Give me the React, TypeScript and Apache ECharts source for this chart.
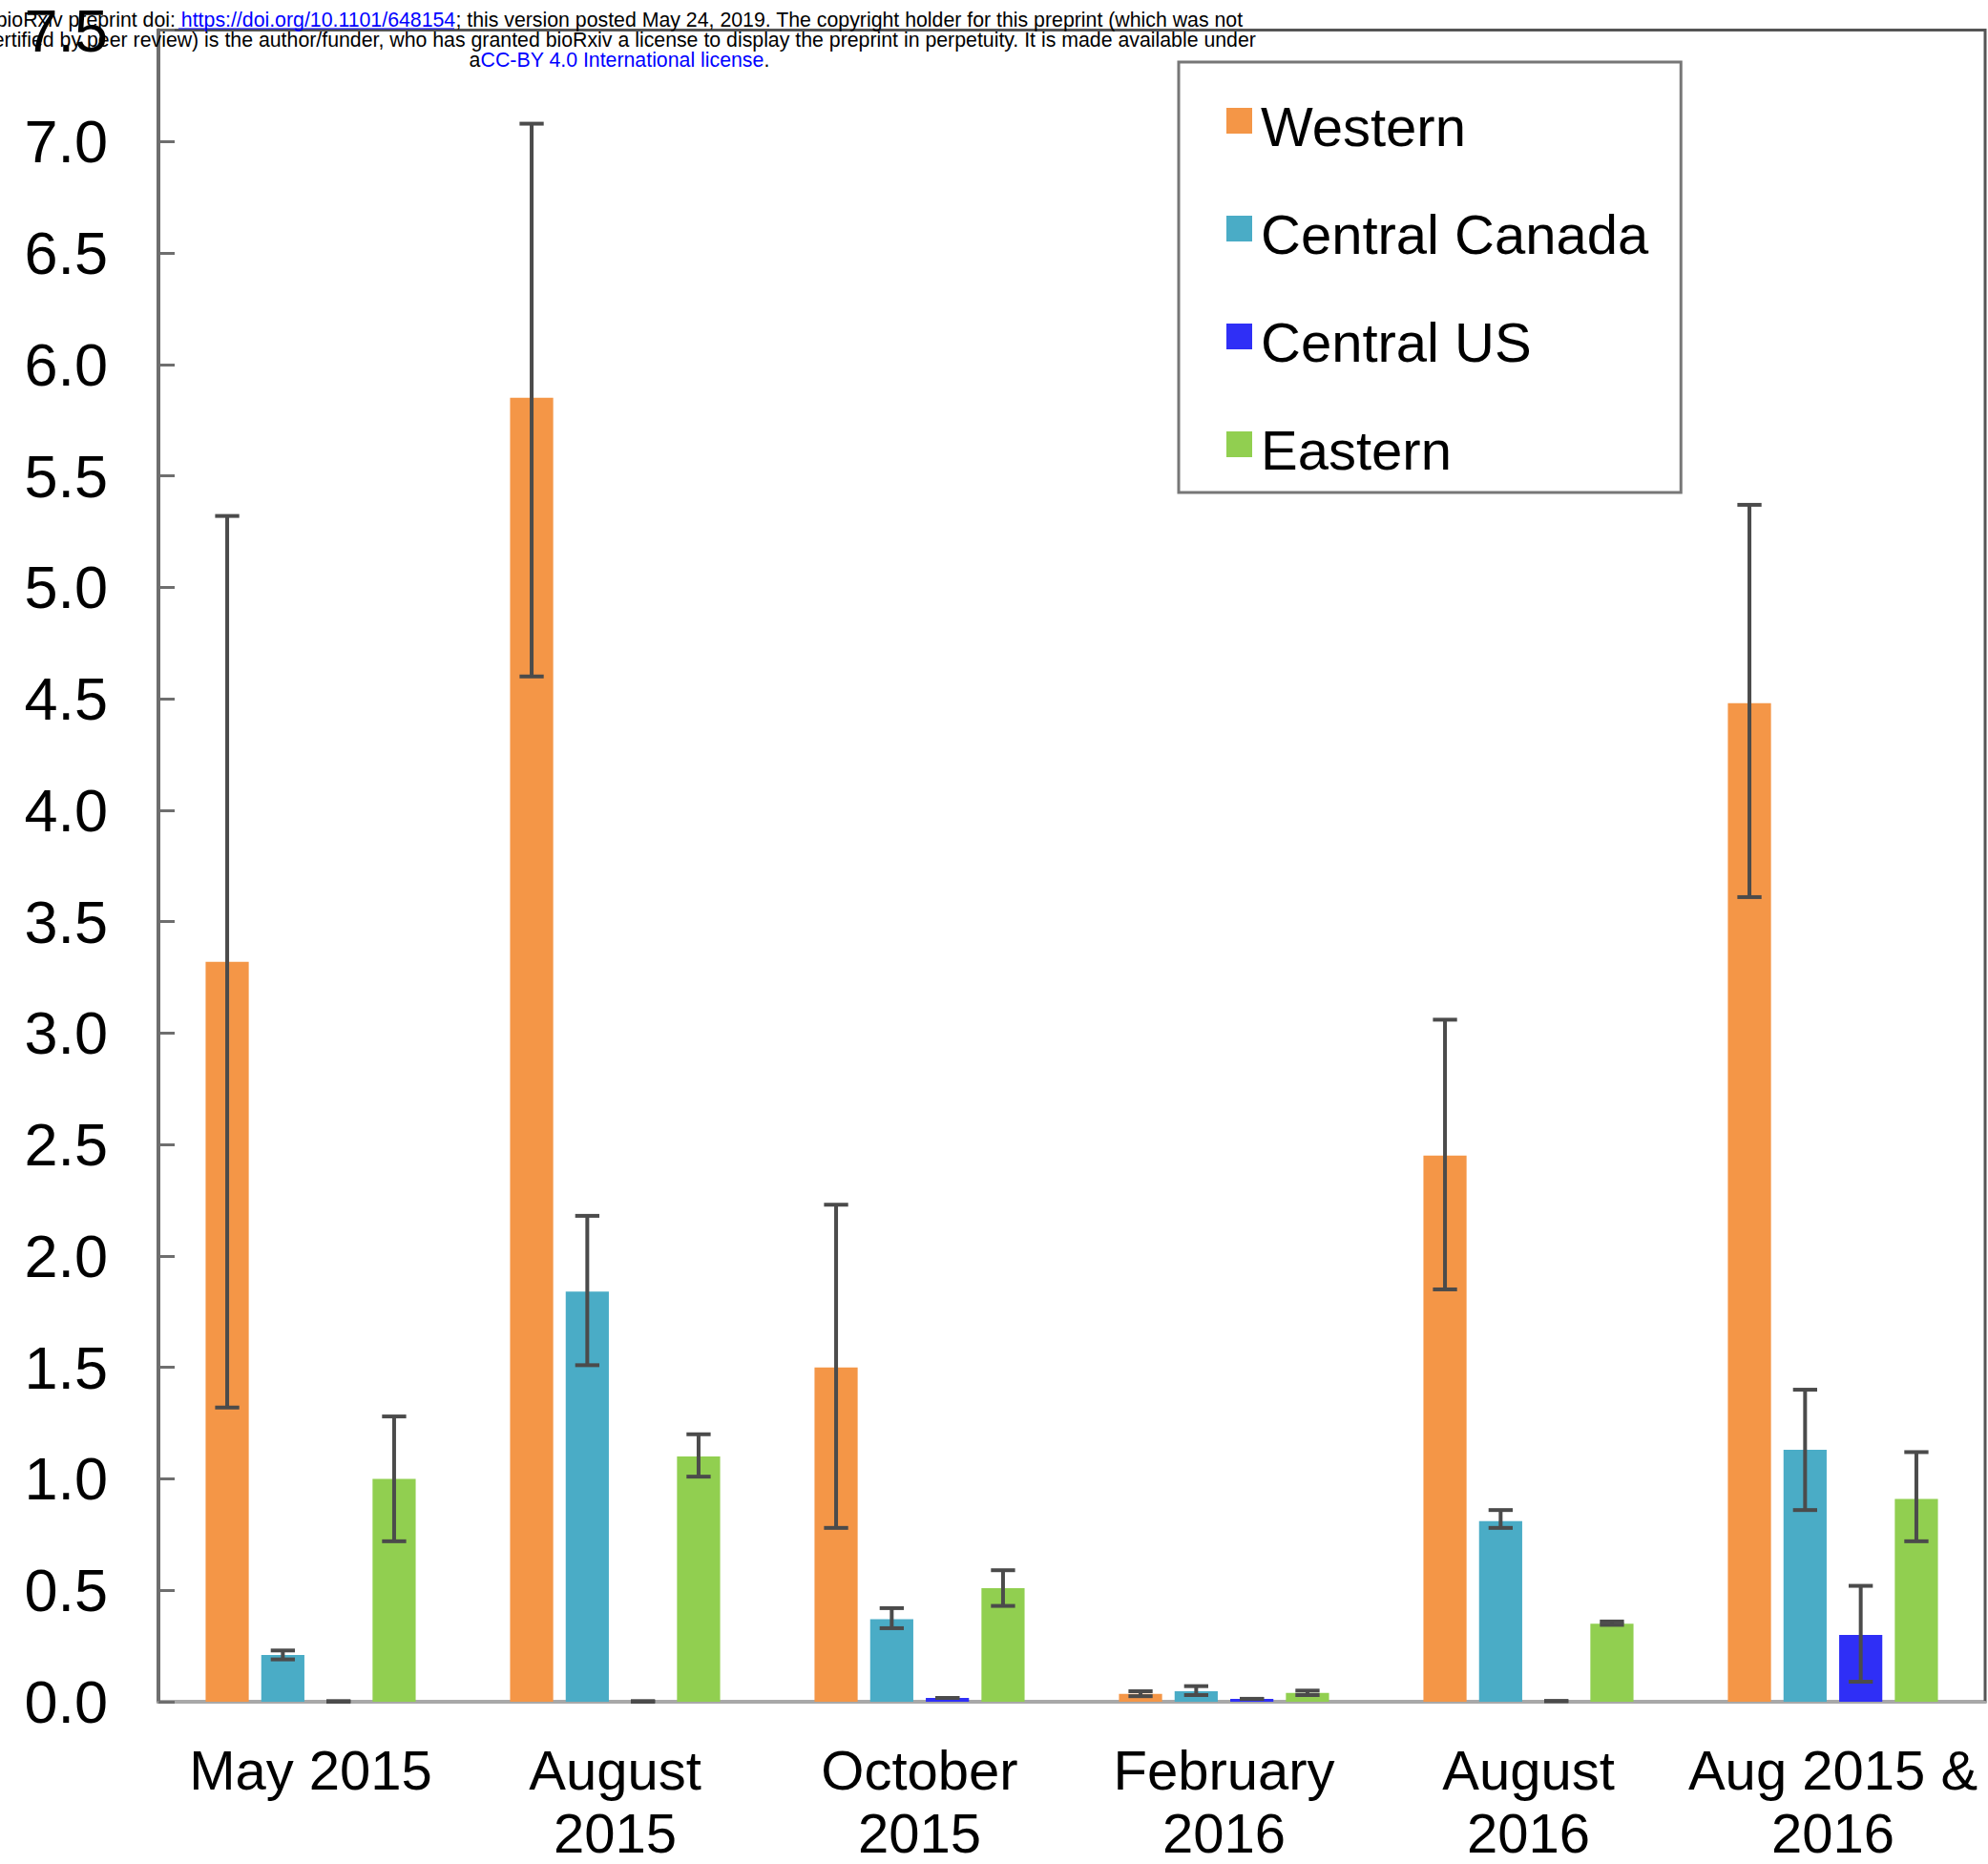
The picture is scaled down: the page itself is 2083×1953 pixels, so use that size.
import React, { useEffect, useRef } from "react";
import * as echarts from "echarts";

const categories = ["May 2015", "August\n2015", "October\n2015", "February\n2016", "August\n2016", "Aug 2015 &\n2016"];
const seriesNames = ["Western", "Central Canada", "Central US", "Eastern"];
const seriesColors = ["#F49647", "#4AACC6", "#2F2FF6", "#91CF50"];

const western = [3.32, 5.85, 1.5, 0.035, 2.45, 4.48];
const westernLow = [1.32, 4.6, 0.78, 0.025, 1.85, 3.61];
const westernHigh = [5.32, 7.08, 2.23, 0.047, 3.06, 5.37];

const centralCanada = [0.21, 1.84, 0.37, 0.047, 0.81, 1.13];
const centralCanadaLow = [0.19, 1.51, 0.33, 0.03, 0.78, 0.86];
const centralCanadaHigh = [0.23, 2.18, 0.42, 0.07, 0.86, 1.4];

const centralUS = [0, 0, 0.017, 0.013, 0, 0.3];
const centralUSLow = [0, 0, 0.017, 0.013, 0.003, 0.09];
const centralUSHigh = [0.003, 0.003, 0.017, 0.013, 0.003, 0.52];

const eastern = [1.0, 1.1, 0.51, 0.04, 0.35, 0.91];
const easternLow = [0.72, 1.01, 0.43, 0.03, 0.345, 0.72];
const easternHigh = [1.28, 1.2, 0.59, 0.05, 0.36, 1.12];

const yTicks = { min: 0, max: 7.5, interval: 0.5 };

const FONT = '"Liberation Sans", Arial, Helvetica, sans-serif';
const CAT_GAP = 0.31;
const BAR_GAP = 0.29;
const N_BARS = 4;

const values = [western, centralCanada, centralUS, eastern];
const lows = [westernLow, centralCanadaLow, centralUSLow, easternLow];
const highs = [westernHigh, centralCanadaHigh, centralUSHigh, easternHigh];

function makeErrorRenderer(si: number) {
  return (params: any, api: any) => {
    const ci = api.value(0);
    const lo = api.value(1);
    const hi = api.value(2);
    const band = api.size([1, 0])[0];
    const w = (band * (1 - CAT_GAP)) / (N_BARS + (N_BARS - 1) * BAR_GAP);
    const total = N_BARS * w + (N_BARS - 1) * w * BAR_GAP;
    const center = api.coord([ci, 0])[0];
    const cx = center - total / 2 + si * w * (1 + BAR_GAP) + w / 2;
    const yLo = api.coord([ci, lo])[1];
    const yHi = api.coord([ci, hi])[1];
    const cap = w * 0.28;
    const style = { stroke: "#4b4b4b", lineWidth: 4 };
    return {
      type: "group",
      children: [
        { type: "line", shape: { x1: cx, y1: yLo, x2: cx, y2: yHi }, style },
        { type: "line", shape: { x1: cx - cap, y1: yHi, x2: cx + cap, y2: yHi }, style },
        { type: "line", shape: { x1: cx - cap, y1: yLo, x2: cx + cap, y2: yLo }, style },
      ],
    };
  };
}

const HEADER_FS = 21.3;

export default function App() {
  const ref = useRef<HTMLDivElement>(null);
  useEffect(() => {
    if (!ref.current) return;
    const chart = echarts.init(ref.current, undefined, { renderer: "svg" });
    const barSeries = seriesNames.map((name, i) => ({
      type: "bar",
      name,
      data: values[i],
      itemStyle: { color: seriesColors[i] },
      barCategoryGap: "31%",
      barGap: "29%",
      z: 2,
    }));
    const errSeries = seriesNames.map((name, i) => ({
      type: "custom",
      name: name + " error",
      data: categories.map((_, k) => [k, lows[i][k], highs[i][k]]),
      encode: { x: 0, y: [1, 2] },
      renderItem: makeErrorRenderer(i),
      z: 5,
      silent: true,
    }));
    chart.setOption({
      animation: false,
      backgroundColor: "#ffffff",
      grid: {
        left: 166,
        right: 3,
        top: 31,
        bottom: 164,
        show: true,
        borderColor: "#555555",
        borderWidth: 3,
        backgroundColor: "transparent",
      },
      xAxis: {
        type: "category",
        data: categories,
        axisLine: { lineStyle: { color: "#a8a8a8", width: 3 } },
        axisTick: { show: false },
        axisLabel: {
          interval: 0,
          fontSize: 58,
          lineHeight: 66,
          color: "#000",
          margin: 38,
          fontFamily: FONT,
        },
      },
      yAxis: {
        type: "value",
        min: yTicks.min,
        max: yTicks.max,
        interval: yTicks.interval,
        axisLine: { show: true, lineStyle: { color: "#6e6e6e", width: 4 } },
        axisTick: { show: true, inside: true, length: 17, lineStyle: { color: "#6e6e6e", width: 3 } },
        axisLabel: {
          formatter: (v: number) => v.toFixed(1),
          fontSize: 63,
          color: "#000",
          margin: 53,
          fontFamily: FONT,
        },
        splitLine: { show: false },
      },
      legend: {
        data: seriesNames,
        orient: "vertical",
        left: 1235,
        top: 65,
        padding: [26, 34, 15, 50],
        itemWidth: 27,
        itemHeight: 27,
        itemGap: 42,
        icon: "rect",
        selectedMode: false,
        borderColor: "#777777",
        borderWidth: 3,
        backgroundColor: "#ffffff",
        formatter: (name: string) => "{n|" + name + "}",
        textStyle: {
          fontSize: 58,
          color: "#000",
          fontFamily: FONT,
          lineHeight: 60,
          padding: [11, 0, 0, 4],
          rich: {
            n: { fontSize: 58, color: "#000", fontFamily: FONT, lineHeight: 60 },
          },
        },
      },
      series: [...barSeries, ...errSeries],
      graphic: [
        {
          type: "text",
          z: 100,
          x: 649,
          y: 21,
          style: {
            text:
              "bioRxiv preprint doi: {link|https://doi.org/10.1101/648154}; this version posted May 24, 2019. The copyright holder for this preprint (which was not",
            fontSize: HEADER_FS,
            fontFamily: FONT,
            fill: "#000",
            align: "center",
            verticalAlign: "middle",
            rich: { link: { fill: "#0000ff", fontSize: HEADER_FS, fontFamily: FONT } },
          },
        },
        {
          type: "text",
          z: 100,
          x: 649,
          y: 42,
          style: {
            text:
              "certified by peer review) is the author/funder, who has granted bioRxiv a license to display the preprint in perpetuity. It is made available under",
            fontSize: HEADER_FS,
            fontFamily: FONT,
            fill: "#000",
            align: "center",
            verticalAlign: "middle",
          },
        },
        {
          type: "text",
          z: 100,
          x: 649,
          y: 63,
          style: {
            text: "a{link|CC-BY 4.0 International license}.",
            fontSize: HEADER_FS,
            fontFamily: FONT,
            fill: "#000",
            align: "center",
            verticalAlign: "middle",
            rich: { link: { fill: "#0000ff", fontSize: HEADER_FS, fontFamily: FONT } },
          },
        },
        {
          type: "line",
          z: 100,
          shape: { x1: 187, y1: 30, x2: 476, y2: 30 },
          style: { stroke: "#0000ff", lineWidth: 1.2 },
        },
      ],
    });
    return () => chart.dispose();
  }, []);
  return <div ref={ref} style={{ position: "fixed", left: 0, top: 0, width: 2083, height: 1953 }} />;
}
